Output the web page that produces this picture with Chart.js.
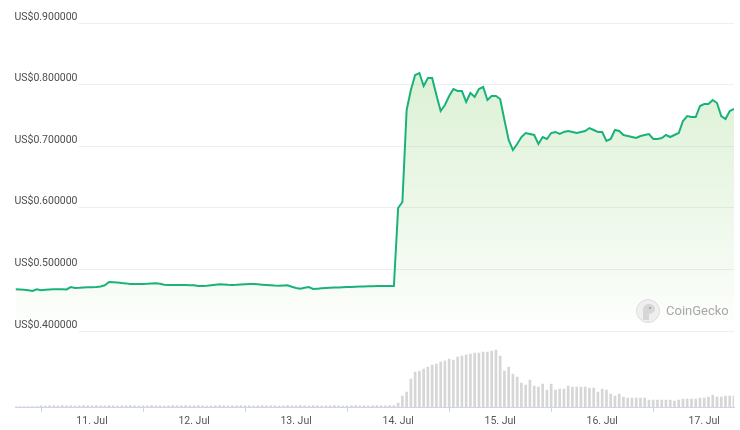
<!DOCTYPE html>
<html>
<head>
<meta charset="utf-8">
<script src="https://cdn.jsdelivr.net/npm/chart.js@4/dist/chart.umd.min.js"></script>
<style>
  html, body { margin: 0; padding: 0; background: #fff; }
  #wrap { width: 740px; height: 430px; position: relative; }
</style>
</head>
<body>
<div id="wrap"><canvas id="priceChart"></canvas></div>
<script>
// hourly series, first point = 10 Jul 06:00
const startHour = 6;
const dayLabels = ['11. Jul', '12. Jul', '13. Jul', '14. Jul', '15. Jul', '16. Jul', '17. Jul'];

const price = [
    0.4677, 0.4674, 0.4670, 0.4661, 0.4649, 0.4677, 0.4661, 0.4669, 0.4674, 0.4677,
    0.4677, 0.4677, 0.4674, 0.4714, 0.4698, 0.4701, 0.4706, 0.4709, 0.4711, 0.4714,
    0.4722, 0.4742, 0.4795, 0.4792, 0.4789, 0.4779, 0.4773, 0.4763, 0.4763, 0.4763,
    0.4763, 0.4766, 0.4771, 0.4774, 0.4766, 0.4752, 0.4747, 0.4747, 0.4747, 0.4747,
    0.4745, 0.4744, 0.4742, 0.4731, 0.4731, 0.4734, 0.4742, 0.4750, 0.4758, 0.4755,
    0.4750, 0.4747, 0.4750, 0.4756, 0.4758, 0.4761, 0.4763, 0.4758, 0.4752, 0.4747,
    0.4742, 0.4737, 0.4735, 0.4739, 0.4742, 0.4718, 0.4698, 0.4687, 0.4701, 0.4714,
    0.4682, 0.4687, 0.4693, 0.4698, 0.4701, 0.4705, 0.4708, 0.4711, 0.4713, 0.4714,
    0.4718, 0.4721, 0.4724, 0.4726, 0.4727, 0.4729, 0.4731, 0.4731, 0.4731, 0.4731,
    0.5997, 0.6094, 0.7588, 0.7912, 0.8156, 0.8188, 0.7977, 0.8107, 0.8107, 0.7831,
    0.7571, 0.7669, 0.7815, 0.7929, 0.7896, 0.7896, 0.7718, 0.7864, 0.7799, 0.7929,
    0.7961, 0.7750, 0.7815, 0.7815, 0.7766, 0.7425, 0.7101, 0.6938, 0.7036, 0.7149,
    0.7214, 0.7198, 0.7182, 0.7036, 0.7149, 0.7117, 0.7214, 0.7231, 0.7198, 0.7231,
    0.7247, 0.7231, 0.7214, 0.7231, 0.7247, 0.7295, 0.7263, 0.7231, 0.7231, 0.7084,
    0.7117, 0.7263, 0.7247, 0.7182, 0.7166, 0.7149, 0.7133, 0.7166, 0.7182, 0.7198,
    0.7117, 0.7117, 0.7133, 0.7182, 0.7149, 0.7182, 0.7214, 0.7409, 0.7490, 0.7474,
    0.7474, 0.7653, 0.7685, 0.7685, 0.7750, 0.7701, 0.7490, 0.7442, 0.7571, 0.7604
];

// volume, relative units
const volume = [
    0.3, 0.3, 0.4, 0.3, 0.4, 0.5, 1.1, 1.0, 1.2, 1.1,
    1.0, 1.3, 1.2, 1.1, 1.0, 1.2, 1.3, 1.1, 1.2, 1.4,
    1.2, 1.1, 1.3, 1.2, 1.0, 1.1, 1.2, 1.3, 1.1, 1.0,
    1.2, 1.1, 1.3, 1.2, 1.1, 1.0, 1.2, 1.3, 1.1, 1.2,
    1.4, 1.2, 1.1, 1.3, 1.2, 1.0, 1.1, 1.2, 1.3, 1.1,
    1.0, 1.2, 1.1, 1.3, 1.2, 1.1, 1.0, 1.2, 1.3, 1.1,
    1.2, 1.1, 1.0, 1.2, 1.3, 1.1, 1.2, 1.4, 1.2, 1.1,
    1.3, 1.2, 1.0, 1.1, 1.2, 1.3, 1.1, 1.0, 1.2, 1.1,
    1.3, 1.2, 1.1, 1.0, 1.2, 1.3, 1.1, 1.2, 1.3, 1.4,
    4, 11, 15, 28, 35, 36, 38, 40, 42, 43,
    45, 46, 48, 47, 50, 51, 52, 53, 54, 54,
    55, 55, 56, 57, 51, 36, 40, 33, 30, 24,
    22, 27, 21, 20, 23, 17, 23, 17, 18, 18,
    21, 20, 20, 20, 20, 19, 19, 15, 18, 17,
    13, 11, 13, 10, 9, 9, 9, 9, 9, 7,
    7, 7, 7, 7, 7, 6, 7, 8, 8, 8,
    8, 9, 9, 10, 12, 10, 10, 11, 11, 11
];

const dayTicks = dayLabels.map((d, k) => 24 * (k + 1) - startHour);

// price pane sits in the top 308px of a 384px plot, volume below it
const priceMax = 0.9;
const priceMin = 0.9 - 384 / 616;
const volMax = 384;

const watermark = {
    id: 'watermark',
    afterDraw(chart) {
        const ctx = chart.ctx;
        const a = chart.chartArea;
        const cx = a.right - 86, cy = a.top + 288;
        ctx.save();
        ctx.beginPath();
        ctx.arc(cx, cy, 11.5, 0, Math.PI * 2);
        ctx.fillStyle = '#efefef';
        ctx.fill();
        ctx.strokeStyle = '#dcdcdc';
        ctx.lineWidth = 1;
        ctx.stroke();
        // gecko head
        ctx.beginPath();
        ctx.ellipse(cx + 1, cy - 2, 6, 5, 0, 0, Math.PI * 2);
        ctx.fillStyle = '#d6d6d6';
        ctx.fill();
        ctx.fillRect(cx - 5, cy - 1, 6, 10);
        ctx.beginPath();
        ctx.arc(cx + 2, cy - 3, 1, 0, Math.PI * 2);
        ctx.fillStyle = '#9a9a9a';
        ctx.fill();
        ctx.font = '13px Roboto';
        ctx.fillStyle = '#a8a8a8';
        ctx.textBaseline = 'middle';
        ctx.textAlign = 'left';
        ctx.fillText('CoinGecko', cx + 18, cy + 1);
        ctx.restore();
    }
};

const canvas = document.getElementById('priceChart');
const chart = new Chart(canvas.getContext('2d'), {
    type: 'line',
    data: {
        datasets: [{
            type: 'line',
            label: 'Price',
            data: price.map((p, i) => ({ x: i, y: p })),
            yAxisID: 'y',
            borderColor: '#19b37a',
            borderWidth: 2,
            pointRadius: 0,
            tension: 0,
            fill: 'start',
            backgroundColor: function (context) {
                const area = context.chart.chartArea;
                if (!area) return 'rgba(120,200,90,0.2)';
                const g = context.chart.ctx.createLinearGradient(0, area.top, 0, area.top + 308);
                g.addColorStop(0, 'rgba(120,200,90,0.30)');
                g.addColorStop(0.85, 'rgba(120,200,90,0.06)');
                g.addColorStop(1, 'rgba(120,200,90,0)');
                return g;
            },
            order: 1
        }, {
            type: 'bar',
            label: 'Volume',
            data: volume.map((v, i) => ({ x: i, y: v })),
            yAxisID: 'y1',
            backgroundColor: '#d6d6d6',
            barThickness: 2,
            order: 2
        }]
    },
    options: {
        responsive: true,
        maintainAspectRatio: false,
        animation: false,
        layout: { padding: { left: 15.5, right: 6, top: 23, bottom: 0 } },
        plugins: {
            legend: { display: false },
            tooltip: { enabled: false }
        },
        scales: {
            x: {
                type: 'linear',
                min: 0,
                max: price.length - 1,
                offset: false,
                afterBuildTicks: axis => { axis.ticks = dayTicks.map(v => ({ value: v })); },
                afterFit: axis => { axis.height = 23; },
                grid: {
                    drawOnChartArea: false,
                    drawTicks: true,
                    tickLength: 5,
                    color: '#ccd6eb'
                },
                border: { display: true, color: '#ccd6eb' },
                ticks: {
                    autoSkip: false,
                    maxRotation: 0,
                    padding: 3,
                    color: '#555',
                    font: { family: 'Roboto', size: 10.5 },
                    callback: v => dayLabels[dayTicks.indexOf(v)]
                }
            },
            y: {
                position: 'left',
                min: priceMin,
                max: priceMax,
                afterBuildTicks: axis => {
                    axis.ticks = axis.ticks.filter(t => t.value > 0.399);
                },
                afterFit: axis => { axis.width = 0; },
                grid: { color: '#efefef', drawTicks: false },
                border: { display: false },
                ticks: {
                    stepSize: 0.1,
                    mirror: true,
                    padding: -1,
                    labelOffset: -6,
                    color: '#4d4d4d',
                    font: { family: 'Roboto', size: 10.5 },
                    showLabelBackdrop: true,
                    backdropColor: '#ffffff',
                    backdropPadding: { top: 1, bottom: 4, left: 1, right: 1 },
                    callback: v => 'US$' + v.toFixed(6)
                }
            },
            y1: {
                display: false,
                min: 0,
                max: volMax
            }
        }
    },
    plugins: [watermark]
});
</script>
</body>
</html>
